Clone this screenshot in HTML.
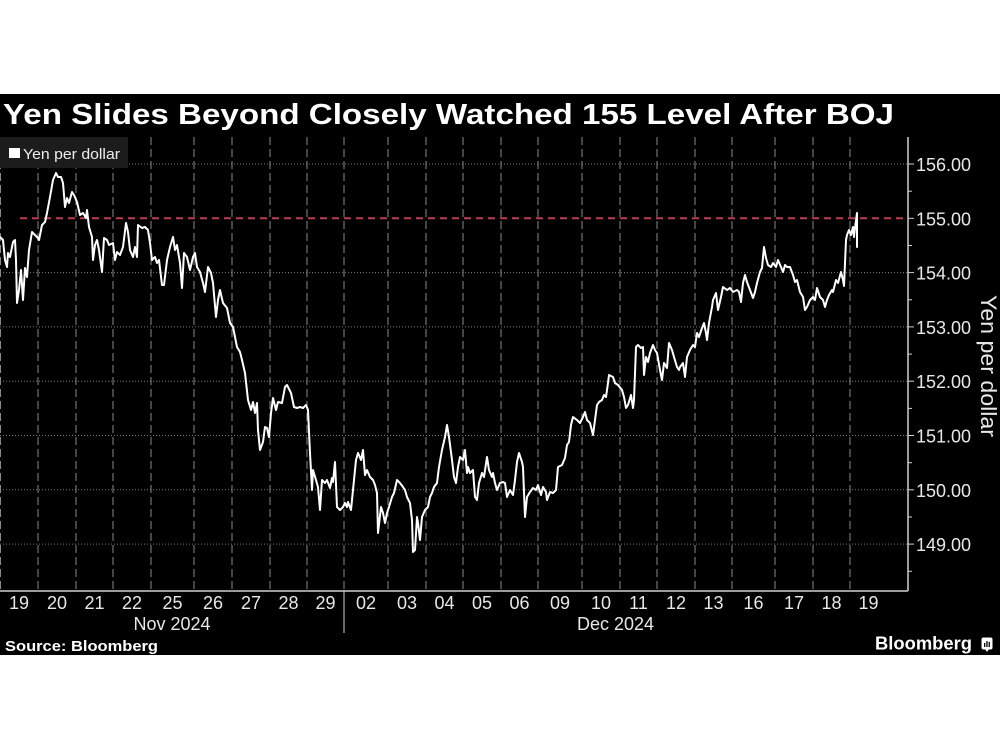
<!DOCTYPE html>
<html>
<head>
<meta charset="utf-8">
<style>
  html,body{margin:0;padding:0;background:#fff;}
  svg{display:block;}
  text{font-family:"Liberation Sans", Arial, sans-serif;}
</style>
</head>
<body>
<svg width="1000" height="750" viewBox="0 0 1000 750" xmlns="http://www.w3.org/2000/svg">
  <rect x="0" y="0" width="1000" height="750" fill="#ffffff"/>
  <rect x="0" y="94" width="1000" height="561" fill="#000000"/>

  <!-- Title -->
  <text x="3" y="124" font-size="29" font-weight="bold" fill="#ffffff" textLength="891" lengthAdjust="spacingAndGlyphs">Yen Slides Beyond Closely Watched 155 Level After BOJ</text>

  <!-- horizontal dotted gridlines -->
  <g stroke="#7a7a7a" stroke-width="1" stroke-dasharray="1 2">
    <line x1="0" y1="164" x2="908" y2="164"/>
    <line x1="0" y1="272.6" x2="908" y2="272.6"/>
    <line x1="0" y1="326.9" x2="908" y2="326.9"/>
    <line x1="0" y1="381.2" x2="908" y2="381.2"/>
    <line x1="0" y1="435.5" x2="908" y2="435.5"/>
    <line x1="0" y1="489.8" x2="908" y2="489.8"/>
    <line x1="0" y1="544.1" x2="908" y2="544.1"/>
  </g>

  <!-- vertical dashed gridlines -->
  <g stroke="#8a8a8a" stroke-width="1" stroke-dasharray="8 4">
    <line x1="0.5" y1="137" x2="0.5" y2="591"/>
    <line x1="38" y1="137" x2="38" y2="591"/>
    <line x1="76" y1="137" x2="76" y2="591"/>
    <line x1="113" y1="137" x2="113" y2="591"/>
    <line x1="151" y1="137" x2="151" y2="591"/>
    <line x1="194" y1="137" x2="194" y2="591"/>
    <line x1="232" y1="137" x2="232" y2="591"/>
    <line x1="270" y1="137" x2="270" y2="591"/>
    <line x1="307" y1="137" x2="307" y2="591"/>
    <line x1="344" y1="137" x2="344" y2="591"/>
    <line x1="388" y1="137" x2="388" y2="591"/>
    <line x1="426" y1="137" x2="426" y2="591"/>
    <line x1="463" y1="137" x2="463" y2="591"/>
    <line x1="501" y1="137" x2="501" y2="591"/>
    <line x1="538" y1="137" x2="538" y2="591"/>
    <line x1="582" y1="137" x2="582" y2="591"/>
    <line x1="620" y1="137" x2="620" y2="591"/>
    <line x1="657" y1="137" x2="657" y2="591"/>
    <line x1="695" y1="137" x2="695" y2="591"/>
    <line x1="732" y1="137" x2="732" y2="591"/>
    <line x1="775" y1="137" x2="775" y2="591"/>
    <line x1="813" y1="137" x2="813" y2="591"/>
    <line x1="850" y1="137" x2="850" y2="591"/>
  </g>

  <!-- 155 reference line -->
  <line x1="20" y1="218.3" x2="908" y2="218.3" stroke="#c23a4e" stroke-width="2" stroke-dasharray="7 5"/>

  <!-- legend -->
  <rect x="0" y="137" width="128" height="31" fill="#1c1c1c"/>
  <rect x="9" y="148" width="11" height="10" fill="#ffffff"/>
  <text x="23" y="159" font-size="15" fill="#eeeeee" textLength="97" lengthAdjust="spacingAndGlyphs">Yen per dollar</text>

  <!-- series -->
  <polyline fill="none" stroke="#ffffff" stroke-width="2" stroke-linejoin="round" stroke-linecap="round" points="
0,237 3,240 5,260 7,267 8,253 10,257 13,242 15,240 16,260 17,303 19,290 21,270 23,300 25,268 27,277 29,250 32,232 37,237 39,240 42,225 45,222 47,213 50,197 53,180 56,173 58,177 61,177 63,183 65,207 67,198 69,203 72,192 74,195 77,202 80,215 83,213 86,218 87,210 89,227 92,237 93,260 95,245 97,240 99,250 102,272 104,238 107,240 109,245 113,243 115,260 117,252 120,255 123,247 126,223 128,232 130,250 133,257 135,247 137,257 138,225 142,228 145,227 148,230 150,243 152,260 155,257 157,263 159,260 162,285 164,285 167,260 170,247 173,237 175,250 177,245 180,263 182,288 184,253 187,257 190,270 193,257 195,253 197,267 200,272 203,283 205,292 208,267 211,273 213,283 216,317 218,300 220,290 223,303 227,308 230,323 233,327 235,337 237,347 240,352
242,360 245,373 248,400 251,410 253,402 255,413 257,403 258,430 260,450 263,442 265,427 267,428 269,437 271,413 273,398 276,410 278,402 282,403 285,387 287,385 291,393 294,407 297,408 300,407 303,408 306,405 308,410 310,453 312,490 313,470 316,480 318,487 320,510 322,480 325,483 327,480 330,488 332,478 333,482 335,462 337,507 340,510 343,507 345,503 347,507 348,502 351,510 353,490 356,460 358,453 361,460 363,450 365,475 367,470 370,477 373,480 375,485 377,493 378,533 381,507 383,513 385,523 387,513 389,507 392,497 394,493 397,480 400,483 403,487 405,490 407,497 410,503 412,520 413,552 415,550 417,517 418,523 420,540 422,517 425,510 428,507 430,497 432,493 434,487 437,483 439,467 442,450 445,437 447,425 449,437 452,460 454,477 456,483 458,467
460,457 463,460 465,450 467,473 468,467 470,473 473,470 475,497 477,500 479,483 482,473 484,477 487,457 489,470 492,477 493,473 495,483 497,490 500,483 503,482 505,483 507,497 510,490 513,495 515,480 517,462 519,453 522,462 523,467 525,517 527,497 530,492 533,488 536,490 538,485 541,495 543,487 546,492 547,500 550,492 553,493 556,490 558,467 562,465 565,458 567,445 569,442 571,425 573,417 577,420 580,423 583,417 585,412 587,420 590,423 593,435 595,420 597,405 599,402 602,400 604,395 606,397 608,383 609,375 613,377 615,383 618,385 622,390 624,397 626,408 628,405 631,395 633,408 634,400 636,347 638,345 641,348 643,347 644,375 646,357 648,362 650,353 653,345 655,350 657,353 660,370 662,380 664,363 667,368 669,343 672,350 674,357 677,367 679,370
680,367 683,363 685,377 687,357 690,350 693,345 695,347 697,333 699,337 702,328 704,323 706,333 707,340 709,323 712,307 713,300 716,293 718,310 721,297 723,287 727,290 730,288 733,292 737,290 739,292 741,302 743,283 745,275 747,282 750,290 753,298 755,292 757,283 760,272 762,268 764,247 766,258 768,265 771,267 773,263 776,267 778,260 781,267 783,272 785,265 787,267 790,267 793,275 795,282 797,280 800,292 803,297 805,310 807,307 810,300 813,297 815,300 817,288 820,297 823,300 825,307 827,300 829,295 832,290 833,292 836,280 838,283 841,272 843,280 844,286 846,240 847,235 849,230 851,235 853,227 854,237 855,228 857,213 857,247"/>

  <!-- axes -->
  <line x1="0" y1="591" x2="908" y2="591" stroke="#d0d0d0" stroke-width="1.5"/>
  <line x1="908" y1="137" x2="908" y2="591" stroke="#d0d0d0" stroke-width="1.5"/>
  <line x1="344" y1="591" x2="344" y2="633" stroke="#d0d0d0" stroke-width="1"/>

  <!-- y ticks -->
  <g stroke="#d0d0d0" stroke-width="1">
    <line x1="908" y1="164" x2="914" y2="164"/>
    <line x1="908" y1="218.3" x2="914" y2="218.3"/>
    <line x1="908" y1="272.6" x2="914" y2="272.6"/>
    <line x1="908" y1="326.9" x2="914" y2="326.9"/>
    <line x1="908" y1="381.2" x2="914" y2="381.2"/>
    <line x1="908" y1="435.5" x2="914" y2="435.5"/>
    <line x1="908" y1="489.8" x2="914" y2="489.8"/>
    <line x1="908" y1="544.1" x2="914" y2="544.1"/>
    <line x1="908" y1="191.2" x2="912" y2="191.2"/>
    <line x1="908" y1="245.5" x2="912" y2="245.5"/>
    <line x1="908" y1="299.8" x2="912" y2="299.8"/>
    <line x1="908" y1="354.1" x2="912" y2="354.1"/>
    <line x1="908" y1="408.4" x2="912" y2="408.4"/>
    <line x1="908" y1="462.7" x2="912" y2="462.7"/>
    <line x1="908" y1="517" x2="912" y2="517"/>
    <line x1="908" y1="571.3" x2="912" y2="571.3"/>
  </g>

  <!-- y labels -->
  <g font-size="18" fill="#e8e8e8">
    <text x="916" y="171">156.00</text>
    <text x="916" y="225.3">155.00</text>
    <text x="916" y="279.6">154.00</text>
    <text x="916" y="333.9">153.00</text>
    <text x="916" y="388.2">152.00</text>
    <text x="916" y="442.5">151.00</text>
    <text x="916" y="496.8">150.00</text>
    <text x="916" y="551.1">149.00</text>
  </g>

  <!-- y axis title -->
  <text transform="translate(981,295) rotate(90)" x="0" y="0" font-size="22" fill="#e8e8e8" textLength="142" lengthAdjust="spacingAndGlyphs">Yen per dollar</text>

  <!-- x labels -->
  <g font-size="18" fill="#e8e8e8" text-anchor="middle">
    <text x="19" y="609">19</text>
    <text x="57" y="609">20</text>
    <text x="94.5" y="609">21</text>
    <text x="132" y="609">22</text>
    <text x="172.5" y="609">25</text>
    <text x="213" y="609">26</text>
    <text x="251" y="609">27</text>
    <text x="288.5" y="609">28</text>
    <text x="325.5" y="609">29</text>
    <text x="366" y="609">02</text>
    <text x="407" y="609">03</text>
    <text x="444.5" y="609">04</text>
    <text x="482" y="609">05</text>
    <text x="519.5" y="609">06</text>
    <text x="560" y="609">09</text>
    <text x="601" y="609">10</text>
    <text x="638.5" y="609">11</text>
    <text x="676" y="609">12</text>
    <text x="713.5" y="609">13</text>
    <text x="753.5" y="609">16</text>
    <text x="794" y="609">17</text>
    <text x="831.5" y="609">18</text>
    <text x="868.5" y="609">19</text>
    <text x="172" y="630">Nov 2024</text>
    <text x="615.5" y="630">Dec 2024</text>
  </g>

  <!-- footer -->
  <text x="5" y="651" font-size="15" font-weight="bold" fill="#ffffff" textLength="153" lengthAdjust="spacingAndGlyphs">Source: Bloomberg</text>
  <text x="875" y="649.5" font-size="18" font-weight="bold" fill="#ffffff" textLength="97" lengthAdjust="spacingAndGlyphs">Bloomberg</text>
  <g>
    <rect x="981.5" y="637.5" width="11" height="12" rx="2" fill="#ffffff"/>
    <polygon points="985,649 989,649 987,652" fill="#ffffff"/>
    <rect x="984" y="643" width="1.3" height="4" fill="#000"/>
    <rect x="986.3" y="641" width="1.3" height="6" fill="#000"/>
    <rect x="988.6" y="642" width="1.3" height="5" fill="#000"/>
  </g>
</svg>
</body>
</html>
